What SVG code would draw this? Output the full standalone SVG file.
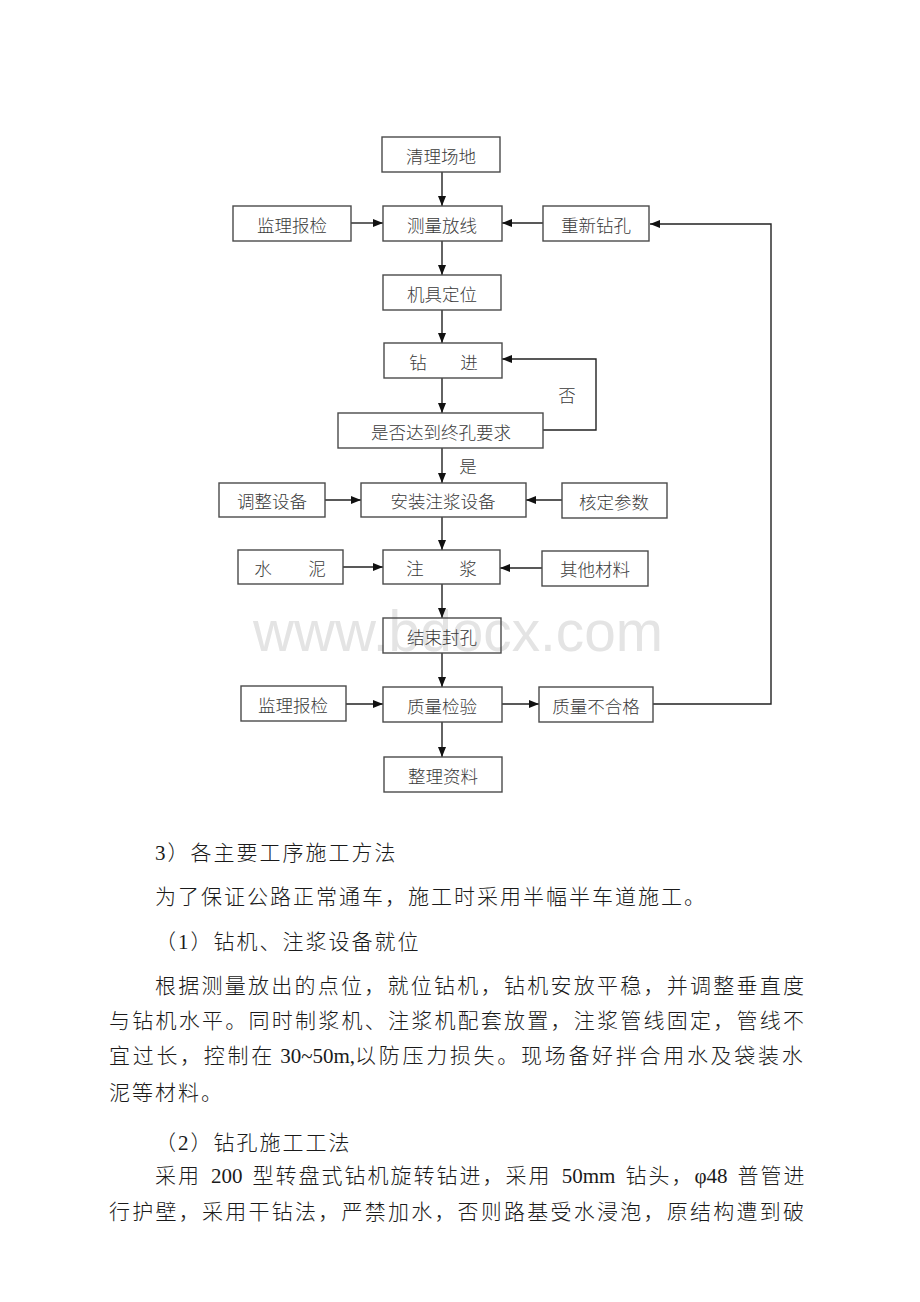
<svg xmlns="http://www.w3.org/2000/svg" width="920" height="1302" viewBox="0 0 920 1302">
<style>
.box{fill:none;stroke:#4a4a4a;stroke-width:1.4}
.lbl{font-family:"Noto Sans CJK SC",sans-serif;font-size:17.5px;font-weight:300;fill:#3a3a3a;text-anchor:middle;dominant-baseline:central}
.edge{fill:none;stroke:#222;stroke-width:1.4}
.body{font-family:"Liberation Serif","Noto Sans CJK SC",serif;font-size:21px;font-weight:300;fill:#1a1a1a;letter-spacing:2px}
.lat{letter-spacing:0}
.wm{font-family:"Liberation Sans",Arial,sans-serif;font-size:57px;fill:#e4e4e4}
</style>
<defs>
<marker id="ah" markerUnits="userSpaceOnUse" markerWidth="10" markerHeight="8" refX="10" refY="4" orient="auto">
<path d="M0,0 L10,4 L0,8 z" fill="#111"/>
</marker>
</defs>
<rect width="920" height="1302" fill="#fff"/>
<text class="wm" x="253" y="651" textLength="410" lengthAdjust="spacingAndGlyphs">www.bdocx.com</text>

<g id="connectors">
<line class="edge" x1="442" y1="172" x2="442" y2="206" marker-end="url(#ah)"/>
<line class="edge" x1="351" y1="223" x2="383" y2="223" marker-end="url(#ah)"/>
<line class="edge" x1="543" y1="223" x2="502" y2="223" marker-end="url(#ah)"/>
<polyline class="edge" points="653,704 771,704 771,224 650,224" marker-end="url(#ah)"/>
<line class="edge" x1="442" y1="241" x2="442" y2="275" marker-end="url(#ah)"/>
<line class="edge" x1="442" y1="310" x2="442" y2="343" marker-end="url(#ah)"/>
<line class="edge" x1="442" y1="378" x2="442" y2="413" marker-end="url(#ah)"/>
<polyline class="edge" points="543,430 596,430 596,359 502,359" marker-end="url(#ah)"/>
<line class="edge" x1="442" y1="448" x2="442" y2="483" marker-end="url(#ah)"/>
<line class="edge" x1="325" y1="500" x2="361" y2="500" marker-end="url(#ah)"/>
<line class="edge" x1="562" y1="500" x2="526" y2="500" marker-end="url(#ah)"/>
<line class="edge" x1="442" y1="517" x2="442" y2="550" marker-end="url(#ah)"/>
<line class="edge" x1="343" y1="567" x2="383" y2="567" marker-end="url(#ah)"/>
<line class="edge" x1="542" y1="568" x2="500" y2="568" marker-end="url(#ah)"/>
<line class="edge" x1="442" y1="584" x2="442" y2="618" marker-end="url(#ah)"/>
<line class="edge" x1="442" y1="653" x2="442" y2="687" marker-end="url(#ah)"/>
<line class="edge" x1="346" y1="704" x2="383" y2="704" marker-end="url(#ah)"/>
<line class="edge" x1="502" y1="704" x2="539" y2="704" marker-end="url(#ah)"/>
<line class="edge" x1="442" y1="722" x2="442" y2="757" marker-end="url(#ah)"/>
<text class="lbl" x="567" y="394">否</text>
<text class="lbl" x="468" y="465">是</text>
</g>

<g id="n-qingli"><rect class="box" x="382" y="137" width="118" height="35"/><text class="lbl" x="441" y="155">清理场地</text></g>
<g id="n-jianli1"><rect class="box" x="233" y="206" width="118" height="35"/><text class="lbl" x="292" y="224">监理报检</text></g>
<g id="n-celiang"><rect class="box" x="383" y="206" width="119" height="35"/><text class="lbl" x="442" y="224">测量放线</text></g>
<g id="n-chongxin"><rect class="box" x="543" y="206" width="106" height="35"/><text class="lbl" x="596" y="224">重新钻孔</text></g>
<g id="n-jiju"><rect class="box" x="383" y="275" width="118" height="35"/><text class="lbl" x="442" y="293">机具定位</text></g>
<g id="n-zuanjin"><rect class="box" x="384" y="343" width="118" height="35"/><text class="lbl" x="418" y="361">钻</text><text class="lbl" x="469" y="361">进</text></g>
<g id="n-shifou"><rect class="box" x="338" y="413" width="205" height="35"/><text class="lbl" x="441" y="431">是否达到终孔要求</text></g>
<g id="n-tiaozheng"><rect class="box" x="219" y="483" width="106" height="34"/><text class="lbl" x="272" y="500">调整设备</text></g>
<g id="n-anzhuang"><rect class="box" x="361" y="483" width="165" height="34"/><text class="lbl" x="443" y="500">安装注浆设备</text></g>
<g id="n-heding"><rect class="box" x="562" y="483" width="105" height="35"/><text class="lbl" x="614" y="501">核定参数</text></g>
<g id="n-shuini"><rect class="box" x="238" y="550" width="105" height="34"/><text class="lbl" x="263" y="567">水</text><text class="lbl" x="317" y="567">泥</text></g>
<g id="n-zhujiang"><rect class="box" x="383" y="550" width="117" height="34"/><text class="lbl" x="415" y="567">注</text><text class="lbl" x="468" y="567">浆</text></g>
<g id="n-qita"><rect class="box" x="542" y="551" width="106" height="35"/><text class="lbl" x="595" y="568">其他材料</text></g>
<g id="n-jieshu"><rect class="box" x="383" y="618" width="118" height="35"/><text class="lbl" x="442" y="636">结束封孔</text></g>
<g id="n-jianli2"><rect class="box" x="241" y="686" width="105" height="35"/><text class="lbl" x="293" y="704">监理报检</text></g>
<g id="n-zhiliang"><rect class="box" x="383" y="687" width="119" height="35"/><text class="lbl" x="442" y="705">质量检验</text></g>
<g id="n-buhege"><rect class="box" x="539" y="687" width="114" height="35"/><text class="lbl" x="596" y="705">质量不合格</text></g>
<g id="n-zhengli"><rect class="box" x="384" y="757" width="118" height="35"/><text class="lbl" x="443" y="775">整理资料</text></g>

<g id="body-text">
<text class="body" x="155" y="860">3）各主要工序施工方法</text>
<text class="body" x="155" y="904">为了保证公路正常通车，施工时采用半幅半车道施工。</text>
<text class="body" x="155" y="949">（1）钻机、注浆设备就位</text>
<text class="body" x="155" y="993" textLength="651" lengthAdjust="spacing">根据测量放出的点位，就位钻机，钻机安放平稳，并调整垂直度</text>
<text class="body" x="109" y="1028" textLength="697" lengthAdjust="spacing">与钻机水平。同时制浆机、注浆机配套放置，注浆管线固定，管线不</text>
<text class="body" x="109" y="1063" style="letter-spacing:2.7px">宜过长，控制在<tspan class="lat"> 30~50m,</tspan>以防压力损失。现场备好拌合用水及袋装水</text>
<text class="body" x="109" y="1100">泥等材料。</text>
<text class="body" x="155" y="1150">（2）钻孔施工工法</text>
<text class="body" x="155" y="1183" style="word-spacing:4.8px">采用<tspan class="lat"> 200 </tspan>型转盘式钻机旋转钻进，采用<tspan class="lat"> 50mm </tspan>钻头，<tspan class="lat">φ48 </tspan>普管进</text>
<text class="body" x="109" y="1219" textLength="697" lengthAdjust="spacing">行护壁，采用干钻法，严禁加水，否则路基受水浸泡，原结构遭到破</text>
</g>
</svg>
